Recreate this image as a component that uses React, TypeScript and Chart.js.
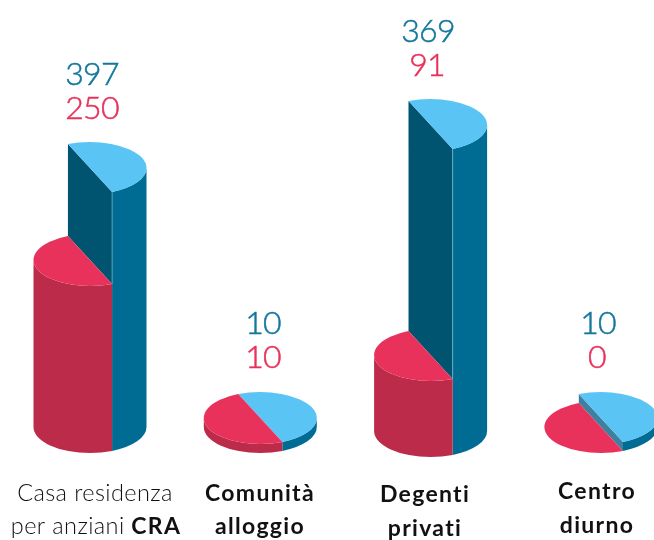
import React, { useEffect, useRef } from "react";
import { Chart, registerables } from "chart.js";

Chart.register(...registerables);

// Values printed above each column
const blueValues = [397, 10, 369, 10];
const redValues = [250, 10, 91, 0];
// Column heights as drawn in the picture: the source artwork is not proportional to the printed values
const blueDrawnHeights = [259, 9, 306, 9];
const redDrawnHeights = [167, 9, 76, 0];
const columnIndexes = [0, 1, 2, 3];

const BLUE_TEXT = "#13789C";
const RED_TEXT = "#E8325B";
const BLUE_TOP = "#5AC5F5";
const BLUE_SIDE = "#006C93";
const RED_TOP = "#E8325B";
const RED_SIDE = "#BC2B49";
const innerFace = ["#00546F", "#00546F", "#00546F", "#3D80A0"];

const RX = 56.5;
const RY = 26;
const CUT = (67 * Math.PI) / 180;
const baseShift = [0, 0, 4, 0];

const valueLabelPos = [
  { bx: 92, rx: 92, by: 85, ry: 119 },
  { bx: 263, rx: 263, by: 334, ry: 368 },
  { bx: 428, rx: 427, by: 42, ry: 76 },
  { bx: 598, rx: 597, by: 334, ry: 368 },
];

type Run = { text: string; bold?: boolean };
const categoryLines: { x: number; y: number; runs: Run[] }[] = [
  { x: 95, y: 501, runs: [{ text: "Casa residenza" }] },
  { x: 96, y: 534, runs: [{ text: "per anziani " }, { text: "CRA", bold: true }] },
  { x: 260, y: 501, runs: [{ text: "Comunità", bold: true }] },
  { x: 260, y: 534, runs: [{ text: "alloggio", bold: true }] },
  { x: 425, y: 502, runs: [{ text: "Degenti", bold: true }] },
  { x: 425, y: 536, runs: [{ text: "privati", bold: true }] },
  { x: 597, y: 499, runs: [{ text: "Centro", bold: true }] },
  { x: 597, y: 533, runs: [{ text: "diurno", bold: true }] },
];

const FONT = "Lato";

function sidePath(ctx: CanvasRenderingContext2D, x: number, top: number, base: number, a0: number, a1: number) {
  ctx.beginPath();
  ctx.ellipse(x, top, RX, RY, 0, a0, a1, false);
  ctx.ellipse(x, base, RX, RY, 0, a1, a0, true);
  ctx.closePath();
}

const cylinderPlugin = {
  id: "cylinders",
  afterDatasetsDraw(chart: any) {
    const ctx: CanvasRenderingContext2D = chart.ctx;
    const blue = chart.getDatasetMeta(0).data;
    const red = chart.getDatasetMeta(1).data;
    const zero = chart.scales.y.getPixelForValue(0);
    ctx.save();
    columnIndexes.forEach((i) => {
      const x = blue[i].x;
      const shift = baseShift[i];
      const base = zero + shift;
      const bTop = blue[i].y + shift;
      const rTop = red[i].y + shift;
      const cx = RX * Math.cos(CUT);
      const cy = RY * Math.sin(CUT);

      // inner cut face of the taller slice
      if (bTop < rTop) {
        ctx.fillStyle = innerFace[i];
        ctx.beginPath();
        ctx.moveTo(x - cx, bTop - cy);
        ctx.lineTo(x + cx, bTop + cy);
        ctx.lineTo(x + cx, rTop + cy);
        ctx.lineTo(x - cx, rTop - cy);
        ctx.closePath();
        ctx.fill();
      }
      // blue outer wall and top
      ctx.fillStyle = BLUE_SIDE;
      sidePath(ctx, x, bTop, base, 0, CUT);
      ctx.fill();
      if (rTop - bTop > 20) {
        ctx.strokeStyle = "rgba(150,205,225,0.55)";
        ctx.lineWidth = 1;
        ctx.beginPath();
        ctx.moveTo(x + cx, bTop + cy);
        ctx.lineTo(x + cx, rTop + cy);
        ctx.stroke();
      }
      ctx.fillStyle = BLUE_TOP;
      ctx.beginPath();
      ctx.ellipse(x, bTop, RX, RY, 0, CUT + Math.PI, CUT + 2 * Math.PI, false);
      ctx.closePath();
      ctx.fill();
      // red outer wall and top
      if (base > rTop) {
        ctx.fillStyle = RED_SIDE;
        sidePath(ctx, x, rTop, base, CUT, Math.PI);
        ctx.fill();
      }
      ctx.fillStyle = RED_TOP;
      ctx.beginPath();
      ctx.ellipse(x, rTop, RX, RY, 0, CUT, CUT + Math.PI, false);
      ctx.closePath();
      ctx.fill();

      // value labels
      const p = valueLabelPos[i];
      ctx.font = `300 32px ${FONT}`;
      (ctx as any).letterSpacing = "-0.8px";
      ctx.textAlign = "center";
      ctx.textBaseline = "alphabetic";
      ctx.lineWidth = 0.5;
      ctx.fillStyle = BLUE_TEXT;
      ctx.strokeStyle = BLUE_TEXT;
      ctx.fillText(String(blueValues[i]), p.bx, p.by);
      ctx.strokeText(String(blueValues[i]), p.bx, p.by);
      ctx.fillStyle = RED_TEXT;
      ctx.strokeStyle = RED_TEXT;
      ctx.fillText(String(redValues[i]), p.rx, p.ry);
      ctx.strokeText(String(redValues[i]), p.rx, p.ry);
    });

    // category labels
    ctx.textAlign = "left";
    ctx.fillStyle = "#111111";
    categoryLines.forEach((line) => {
      const fontOf = (r: Run) => (r.bold ? `700 23px ${FONT}` : `300 23.5px ${FONT}`);
      const spacing = (r: Run) => (r.bold ? "1.3px" : "0.4px");
      let w = 0;
      line.runs.forEach((r) => {
        ctx.font = fontOf(r);
        (ctx as any).letterSpacing = spacing(r);
        w += ctx.measureText(r.text).width;
      });
      let px = line.x - w / 2;
      line.runs.forEach((r) => {
        ctx.font = fontOf(r);
        (ctx as any).letterSpacing = spacing(r);
        ctx.fillText(r.text, px, line.y);
        px += ctx.measureText(r.text).width;
      });
    });
    (ctx as any).letterSpacing = "0px";
    ctx.restore();
  },
};

export default function App() {
  const ref = useRef<HTMLCanvasElement>(null);
  useEffect(() => {
    const chart = new Chart(ref.current as HTMLCanvasElement, {
      type: "scatter",
      data: {
        datasets: [
          {
            label: "Blu",
            data: columnIndexes.map((i) => ({ x: i, y: blueDrawnHeights[i] })),
            pointRadius: 0,
          },
          {
            label: "Rosso",
            data: columnIndexes.map((i) => ({ x: i, y: redDrawnHeights[i] })),
            pointRadius: 0,
          },
        ],
      },
      options: {
        animation: false,
        responsive: false,
        layout: { padding: { left: 0, right: 0, top: 0, bottom: 113 } },
        plugins: { legend: { display: false }, tooltip: { enabled: false } },
        scales: {
          x: { type: "linear", display: false, min: -0.5285, max: 3.3118 },
          y: { type: "linear", display: false, min: 0, max: 427 },
        },
      },
      plugins: [cylinderPlugin],
    } as any);
    return () => chart.destroy();
  }, []);
  return (
    <div style={{ position: "absolute", left: 0, top: 0, width: 654, height: 540, background: "#fff" }}>
      <canvas ref={ref} width={654} height={540} style={{ display: "block" }} />
    </div>
  );
}
